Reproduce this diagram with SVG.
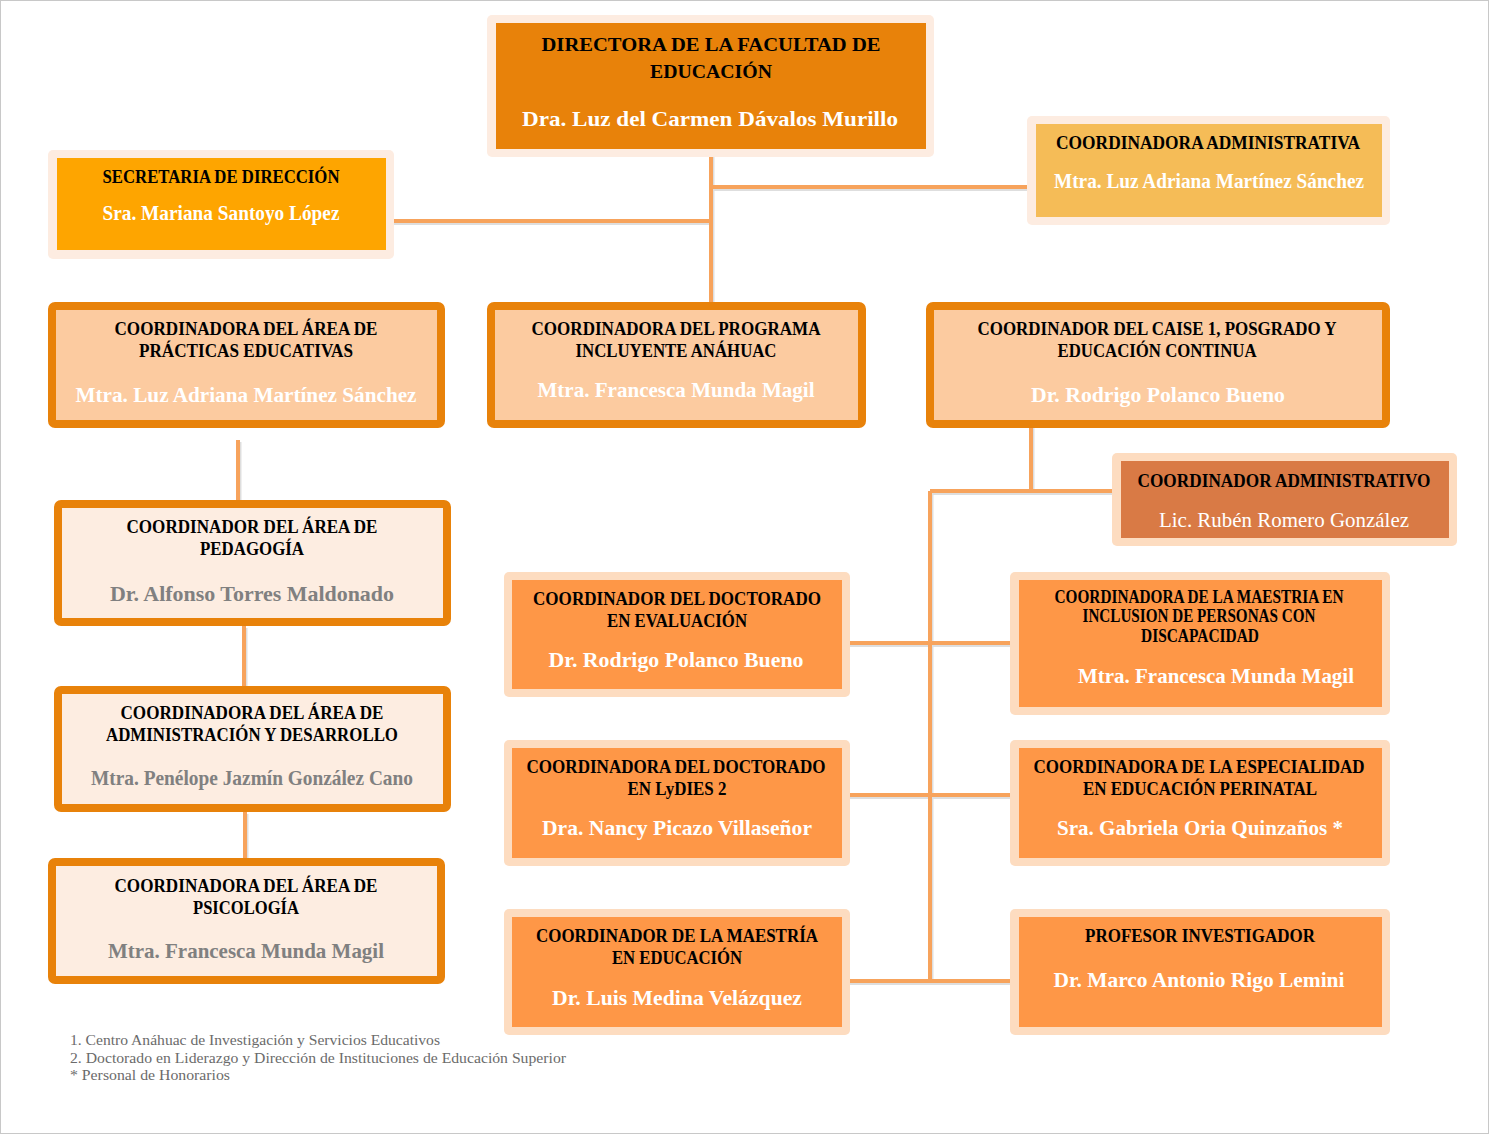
<svg xmlns="http://www.w3.org/2000/svg" width="1489" height="1134" viewBox="0 0 1489 1134">
<style>
.h{font-family:"Liberation Serif","Times New Roman",serif;font-weight:bold;font-size:18.5px;fill:#000;text-anchor:middle}
.n{font-family:"Liberation Serif","Times New Roman",serif;font-weight:bold;font-size:21px;fill:#fff;text-anchor:middle}
.g{fill:#808080}
.fn{font-family:"Liberation Serif","Times New Roman",serif;font-size:14.5px;fill:#6b6b6b}
.pale{fill:#fdece1}
.pale2{fill:#fddcc0}
.frame{stroke:#e8820a;stroke-width:8}
.c{stroke:#f7a35c;stroke-width:4;fill:none}
.s{stroke:#a0a0a0;stroke-width:4;fill:none;opacity:0.35}
</style>
<rect x="0.5" y="0.5" width="1488" height="1133" fill="#fff" stroke="#c8c8c8"/>
<g id="connectors">
<g transform="translate(1.5,2)">
<path class="s" d="M711 153V303M711 187H1030M390 221H711"/>
<path class="s" d="M238 440V500M244 626V686M245 812V860"/>
<path class="s" d="M1031 426V491M930 491H1115M930 491V982M846 643H1013M846 795H1013M846 981H1013"/>
</g>
<path class="c" d="M711 153V303M711 187H1030M390 221H711"/>
<path class="c" d="M238 440V500M244 626V686M245 812V860"/>
<path class="c" d="M1031 426V491M930 491H1115M930 491V982M846 643H1013M846 795H1013M846 981H1013"/>
</g>
<g id="directora">
<rect class="pale" x="487" y="15" width="447" height="142" rx="5"/>
<rect x="496" y="23" width="430" height="126" fill="#e8820a"/>
<text class="h" x="711" y="51" font-size="22.5" textLength="339" lengthAdjust="spacingAndGlyphs">DIRECTORA DE LA FACULTAD DE</text>
<text class="h" x="711" y="78" font-size="22.5" textLength="122" lengthAdjust="spacingAndGlyphs">EDUCACIÓN</text>
<text class="n" x="710" y="126" font-size="23" textLength="376" lengthAdjust="spacingAndGlyphs">Dra. Luz del Carmen Dávalos Murillo</text>
</g>
<g id="secretaria">
<rect class="pale" x="48" y="150" width="346" height="109" rx="5"/>
<rect x="57" y="158" width="329" height="92" fill="#fea500"/>
<text class="h" x="221" y="183" textLength="237" lengthAdjust="spacingAndGlyphs">SECRETARIA DE DIRECCIÓN</text>
<text class="n" x="221" y="220" font-size="19" textLength="237" lengthAdjust="spacingAndGlyphs">Sra. Mariana Santoyo López</text>
</g>
<g id="coord-administrativa">
<rect class="pale" x="1027" y="116" width="363" height="109" rx="5"/>
<rect x="1036" y="124" width="346" height="93" fill="#f5bc57"/>
<text class="h" x="1208" y="149" textLength="304" lengthAdjust="spacingAndGlyphs">COORDINADORA ADMINISTRATIVA</text>
<text class="n" x="1209" y="188" font-size="19" textLength="310" lengthAdjust="spacingAndGlyphs">Mtra. Luz Adriana Martínez Sánchez</text>
</g>
<g id="practicas">
<rect class="frame" x="52" y="306" width="389" height="118" rx="3" fill="#fccba0"/>
<text class="h" x="246" y="335" textLength="263" lengthAdjust="spacingAndGlyphs">COORDINADORA DEL ÁREA DE</text>
<text class="h" x="246" y="357" textLength="214" lengthAdjust="spacingAndGlyphs">PRÁCTICAS EDUCATIVAS</text>
<text class="n" x="246" y="402" textLength="341" lengthAdjust="spacingAndGlyphs">Mtra. Luz Adriana Martínez Sánchez</text>
</g>
<g id="incluyente">
<rect class="frame" x="491" y="306" width="371" height="118" rx="3" fill="#fccba0"/>
<text class="h" x="676" y="335" textLength="289" lengthAdjust="spacingAndGlyphs">COORDINADORA DEL PROGRAMA</text>
<text class="h" x="676" y="357" textLength="201" lengthAdjust="spacingAndGlyphs">INCLUYENTE ANÁHUAC</text>
<text class="n" x="676" y="397" textLength="277" lengthAdjust="spacingAndGlyphs">Mtra. Francesca Munda Magil</text>
</g>
<g id="caise">
<rect class="frame" x="930" y="306" width="456" height="118" rx="3" fill="#fccba0"/>
<text class="h" x="1157" y="335" textLength="359" lengthAdjust="spacingAndGlyphs">COORDINADOR DEL CAISE 1, POSGRADO Y</text>
<text class="h" x="1157" y="357" textLength="199" lengthAdjust="spacingAndGlyphs">EDUCACIÓN CONTINUA</text>
<text class="n" x="1158" y="402" textLength="254" lengthAdjust="spacingAndGlyphs">Dr. Rodrigo Polanco Bueno</text>
</g>
<g id="pedagogia">
<rect class="frame" x="58" y="504" width="389" height="118" rx="3" fill="#fdede1"/>
<text class="h" x="252" y="533" textLength="251" lengthAdjust="spacingAndGlyphs">COORDINADOR DEL ÁREA DE</text>
<text class="h" x="252" y="555" textLength="104" lengthAdjust="spacingAndGlyphs">PEDAGOGÍA</text>
<text class="n g" x="252" y="601" textLength="284" lengthAdjust="spacingAndGlyphs">Dr. Alfonso Torres Maldonado</text>
</g>
<g id="administracion">
<rect class="frame" x="58" y="690" width="389" height="118" rx="3" fill="#fdede1"/>
<text class="h" x="252" y="719" textLength="263" lengthAdjust="spacingAndGlyphs">COORDINADORA DEL ÁREA DE</text>
<text class="h" x="252" y="741" textLength="292" lengthAdjust="spacingAndGlyphs">ADMINISTRACIÓN Y DESARROLLO</text>
<text class="n g" x="252" y="785" font-size="19" textLength="322" lengthAdjust="spacingAndGlyphs">Mtra. Penélope Jazmín González Cano</text>
</g>
<g id="psicologia">
<rect class="frame" x="52" y="862" width="389" height="118" rx="3" fill="#fdede1"/>
<text class="h" x="246" y="892" textLength="263" lengthAdjust="spacingAndGlyphs">COORDINADORA DEL ÁREA DE</text>
<text class="h" x="246" y="914" textLength="106" lengthAdjust="spacingAndGlyphs">PSICOLOGÍA</text>
<text class="n g" x="246" y="958" textLength="276" lengthAdjust="spacingAndGlyphs">Mtra. Francesca Munda Magil</text>
</g>
<g id="coord-administrativo">
<rect class="pale2" x="1112" y="453" width="345" height="93" rx="5"/>
<rect x="1121" y="461" width="328" height="77" fill="#d97a45"/>
<text class="h" x="1284" y="487" textLength="293" lengthAdjust="spacingAndGlyphs">COORDINADOR ADMINISTRATIVO</text>
<text class="n" x="1284" y="527" style="font-weight:normal" textLength="250" lengthAdjust="spacingAndGlyphs">Lic. Rubén Romero González</text>
</g>
<g id="doc-evaluacion">
<rect class="pale2" x="504" y="572" width="346" height="125" rx="5"/>
<rect x="512" y="580" width="330" height="109" fill="#fe9747"/>
<text class="h" x="677" y="605" textLength="288" lengthAdjust="spacingAndGlyphs">COORDINADOR DEL DOCTORADO</text>
<text class="h" x="677" y="627" textLength="140" lengthAdjust="spacingAndGlyphs">EN EVALUACIÓN</text>
<text class="n" x="676" y="667" textLength="255" lengthAdjust="spacingAndGlyphs">Dr. Rodrigo Polanco Bueno</text>
</g>
<g id="maestria-inclusion">
<rect class="pale2" x="1010" y="572" width="380" height="143" rx="5"/>
<rect x="1019" y="580" width="363" height="127" fill="#fe9747"/>
<text class="h" x="1199" y="603" font-size="16" textLength="289" lengthAdjust="spacingAndGlyphs">COORDINADORA DE LA MAESTRIA EN</text>
<text class="h" x="1199" y="622" font-size="16" textLength="233" lengthAdjust="spacingAndGlyphs">INCLUSION DE PERSONAS CON</text>
<text class="h" x="1200" y="642" font-size="16" textLength="118" lengthAdjust="spacingAndGlyphs">DISCAPACIDAD</text>
<text class="n" x="1216" y="683" textLength="276" lengthAdjust="spacingAndGlyphs">Mtra. Francesca Munda Magil</text>
</g>
<g id="doc-lydies">
<rect class="pale2" x="504" y="740" width="346" height="126" rx="5"/>
<rect x="512" y="748" width="330" height="110" fill="#fe9747"/>
<text class="h" x="676" y="773" textLength="299" lengthAdjust="spacingAndGlyphs">COORDINADORA DEL DOCTORADO</text>
<text class="h" x="677" y="795" textLength="99" lengthAdjust="spacingAndGlyphs">EN LyDIES 2</text>
<text class="n" x="677" y="835" textLength="270" lengthAdjust="spacingAndGlyphs">Dra. Nancy Picazo Villaseñor</text>
</g>
<g id="especialidad">
<rect class="pale2" x="1010" y="740" width="380" height="126" rx="5"/>
<rect x="1019" y="748" width="363" height="110" fill="#fe9747"/>
<text class="h" x="1199" y="773" textLength="331" lengthAdjust="spacingAndGlyphs">COORDINADORA DE LA ESPECIALIDAD</text>
<text class="h" x="1200" y="795" textLength="234" lengthAdjust="spacingAndGlyphs">EN EDUCACIÓN PERINATAL</text>
<text class="n" x="1200" y="835" textLength="286" lengthAdjust="spacingAndGlyphs">Sra. Gabriela Oria Quinzaños *</text>
</g>
<g id="maestria-educacion">
<rect class="pale2" x="504" y="909" width="346" height="126" rx="5"/>
<rect x="512" y="917" width="330" height="110" fill="#fe9747"/>
<text class="h" x="677" y="942" textLength="282" lengthAdjust="spacingAndGlyphs">COORDINADOR DE LA MAESTRÍA</text>
<text class="h" x="677" y="964" textLength="130" lengthAdjust="spacingAndGlyphs">EN EDUCACIÓN</text>
<text class="n" x="677" y="1005" textLength="250" lengthAdjust="spacingAndGlyphs">Dr. Luis Medina Velázquez</text>
</g>
<g id="profesor">
<rect class="pale2" x="1010" y="909" width="380" height="126" rx="5"/>
<rect x="1019" y="917" width="363" height="110" fill="#fe9747"/>
<text class="h" x="1200" y="942" textLength="230" lengthAdjust="spacingAndGlyphs">PROFESOR INVESTIGADOR</text>
<text class="n" x="1199" y="987" textLength="291" lengthAdjust="spacingAndGlyphs">Dr. Marco Antonio Rigo Lemini</text>
</g>
<g id="footnotes">
<text class="fn" x="70" y="1045" textLength="370" lengthAdjust="spacingAndGlyphs">1. Centro Anáhuac de Investigación y Servicios Educativos</text>
<text class="fn" x="70" y="1063" textLength="496" lengthAdjust="spacingAndGlyphs">2. Doctorado en Liderazgo y Dirección de Instituciones de Educación Superior</text>
<text class="fn" x="70" y="1080" textLength="160" lengthAdjust="spacingAndGlyphs">* Personal de Honorarios</text>
</g>
</svg>
